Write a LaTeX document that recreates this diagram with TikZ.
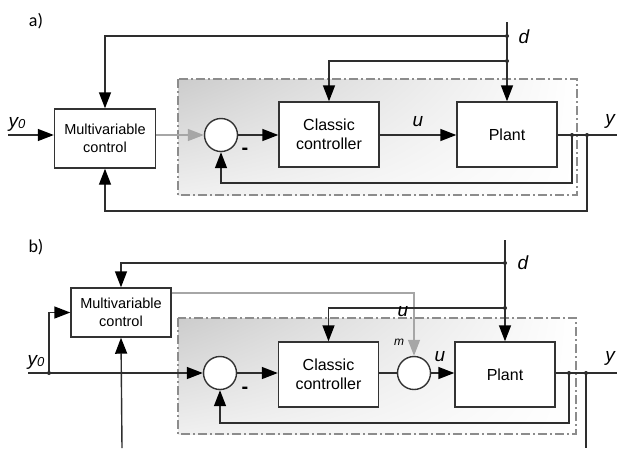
\documentclass[tikz,border=0pt]{standalone}
\usepackage{fontspec}
\setmainfont{Liberation Sans}
\newfontfamily\labfont{Carlito}
\usetikzlibrary{arrows.meta,calc,shadings}
\tikzset{
  tipk/.tip={Triangle[length=16pt,width=12pt,color=black]},
  tipg/.tip={Triangle[length=16pt,width=12pt,color=black!35]}}
\begin{document}
\begin{tikzpicture}[x=1pt,y=-1pt,
  ln/.style={draw=black!82, line width=1.4pt},
  arr/.style={ln,-tipk},
  garr/.style={draw=black!35, line width=1.4pt,-tipg},
  blk/.style={draw=black!80, line width=1.4pt, fill=white, minimum width=100pt, minimum height=65pt, inner sep=0pt, align=center, font=\fontsize{16}{19}\selectfont},
  mvblk/.style={blk, font=\fontsize{14.5}{17.5}\selectfont},
  sumc/.style={circle, draw=black!80, line width=1.4pt, fill=white, minimum size=33pt, inner sep=0pt},
  dot/.style={circle, fill=black!85, minimum size=4pt, inner sep=0pt},
  lab/.style={font=\fontsize{19}{20}\selectfont\itshape, inner sep=0pt},
  minus/.style={font=\fontsize{20}{20}\selectfont\bfseries, inner sep=0pt},
  panel/.style={font=\labfont\fontsize{18}{20}\selectfont, inner sep=0pt},
  frame/.style={draw=black!45, line width=1.2pt, dash pattern=on 9pt off 3pt on 2pt off 3pt}]
\path[use as bounding box] (0,0) rectangle (617,448);

% ================= panel a =================
\node[panel] (pa) at (36,21) {a)};
\shade[upper left=black!20, lower left=black!6, upper right=white, lower right=white] (178,79) rectangle (577,195);
\draw[frame] (178,79) rectangle (577,195);

\node[mvblk, minimum width=101pt, minimum height=59pt] (mva) at (105,138.5) {Multivariable\\control};
\node[sumc] (sa) at (221,135) {};
\node[blk] (cca) at (329,134.5) {Classic\\controller};
\node[blk] (pla) at (507,134.5) {Plant};

\coordinate (y0a) at (8,135);
\coordinate (youta) at (617,135);
\coordinate (da) at (507,22);
\node[dot] (dd1a) at (507,36) {};
\node[dot] (dd2a) at (507,61) {};
\node[dot] (j1a) at (572,135) {};
\node[dot] (j2a) at (587,135) {};
\coordinate (fb1a) at (221,183);
\coordinate (fb2a) at (105,211);

\draw[arr] (y0a) -- (mva.west |- y0a);
\draw[garr] (mva.east |- sa) -- (sa.west);
\draw[arr] (sa.east) -- (sa.east -| cca.west);
\draw[arr] (cca.east |- sa) -- (sa -| pla.west);
\draw[ln] (pla.east |- sa) -- (youta);
\draw[arr] (da) -- (pla.north);
\draw[arr] (dd1a.center) -| (mva.north);
\draw[arr] (dd2a.center) -| (cca.north);
\draw[arr] (j1a.center) |- (fb1a) -- (sa.south);
\draw[arr] (j2a.center) |- (fb2a) -- (mva.south);

\node[lab] (ly0a) at (17,124) {y\raisebox{-1pt}{\fontsize{13}{13}\selectfont 0}};
\node[lab] (lda) at (524,37) {d};
\node[lab] (lua) at (418,122) {u};
\node[lab] (lya) at (610,121) {y};
\node[minus] (ma) at (245,151) {-};

% ================= panel b =================
\node[panel] (pb) at (36,247) {b)};
\shade[upper left=black!20, lower left=black!6, upper right=white, lower right=white] (178,318) rectangle (576,434);
\draw[frame] (178,318) rectangle (576,434);

\node[mvblk, minimum width=100pt, minimum height=49pt] (mvb) at (121,312.5) {Multivariable\\control};
\node[sumc] (sb) at (220,373) {};
\node[sumc] (s2) at (414,373) {};
\node[blk] (ccb) at (328.5,374.5) {Classic\\controller};
\node[blk] (plb) at (505,374.5) {Plant};

\coordinate (y0b) at (28,373);
\node[dot] (jy0) at (49,373) {};
\coordinate (botb) at (122,448);
\coordinate (youtb) at (617,373);
\coordinate (db) at (505,240);
\coordinate (gy) at (0,293);
\node[dot] (dd1b) at (505,263) {};
\node[dot] (dd2b) at (505,308) {};
\node[dot] (j1b) at (569,373) {};
\node[dot] (j2b) at (586,373) {};
\coordinate (fb1b) at (220,423);
\coordinate (outb) at (586,448);

\draw[arr] (y0b) -- (sb.west);
\draw[arr] (jy0.center) |- (mvb.west);
\draw[arr] (botb) -- (mvb.south);
\draw[garr] (mvb.east |- gy) -| (s2.north);
\draw[arr] (sb.east) -- (sb.east -| ccb.west);
\draw[ln] (ccb.east |- s2) -- (s2.west);
\draw[arr] (s2.east) -- (s2.east -| plb.west);
\draw[ln] (plb.east |- s2) -- (youtb);
\draw[arr] (db) -- (plb.north);
\draw[arr] (dd1b.center) -| (mvb.north);
\draw[arr] (dd2b.center) -| (ccb.north);
\draw[arr] (j1b.center) |- (fb1b) -- (sb.south);
\draw[ln] (j2b.center) -- (outb);

\node[lab] (ly0b) at (36,362) {y\raisebox{-1pt}{\fontsize{13}{13}\selectfont 0}};
\node[lab] (ldb) at (523,263) {d};
\node[lab] (lub) at (440,357) {u};
\node[lab] (lumb) at (403,312) {u};
\node[lab, font=\fontsize{12}{12}\selectfont\itshape] (lmb) at (399,342) {m};
\node[lab] (lyb) at (610,358) {y};
\node[minus] (mb) at (245,390) {-};
\end{tikzpicture}
\end{document}
